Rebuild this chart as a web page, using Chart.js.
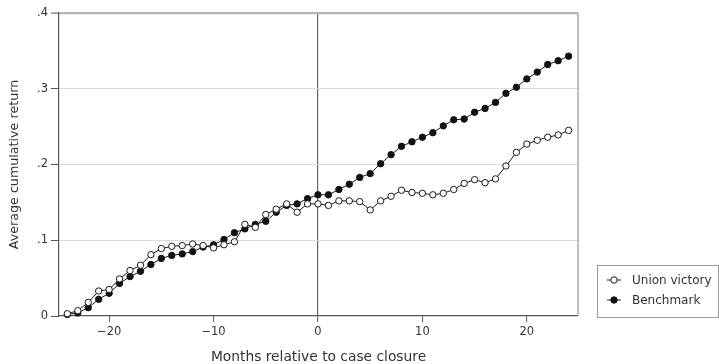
<!DOCTYPE html>
<html><head><meta charset="utf-8">
<script src="https://cdn.jsdelivr.net/npm/chart.js@4/dist/chart.umd.min.js"></script>
<style>html,body{margin:0;padding:0;background:#fff;}#wrap{width:719px;height:364px;}</style>
</head><body><div id="wrap"><canvas id="c" width="719" height="364"></canvas></div>
<script>
const months = [-24,-23,-22,-21,-20,-19,-18,-17,-16,-15,-14,-13,-12,-11,-10,-9,-8,-7,-6,-5,-4,-3,-2,-1,0,1,2,3,4,5,6,7,8,9,10,11,12,13,14,15,16,17,18,19,20,21,22,23,24];
const unionVictory = [0.003,0.007,0.018,0.033,0.035,0.049,0.060,0.067,0.081,0.089,0.092,0.093,0.095,0.093,0.090,0.094,0.098,0.121,0.117,0.134,0.141,0.148,0.137,0.148,0.148,0.146,0.152,0.152,0.151,0.140,0.152,0.158,0.166,0.163,0.162,0.160,0.162,0.167,0.175,0.180,0.176,0.181,0.198,0.216,0.227,0.232,0.236,0.239,0.245];
const benchmark = [0.002,0.004,0.011,0.022,0.030,0.043,0.052,0.059,0.068,0.076,0.080,0.082,0.085,0.091,0.094,0.101,0.110,0.115,0.121,0.125,0.137,0.146,0.148,0.155,0.160,0.160,0.167,0.174,0.183,0.188,0.201,0.213,0.224,0.230,0.236,0.242,0.251,0.259,0.260,0.269,0.274,0.282,0.294,0.302,0.313,0.322,0.332,0.337,0.343];
const seriesNames = ['Union victory','Benchmark'];
const xTicks = [-20,-10,0,10,20];
const yTicks = [0,0.1,0.2,0.3,0.4];
const xTitle = 'Months relative to case closure';
const yTitle = 'Average cumulative return';

const FONT = "'DejaVu Sans', sans-serif";
const toXY = (xs, ys) => xs.map((x,i)=>({x:x, y:ys[i]}));

const framePlugin = {
  id: 'frame',
  beforeDatasetsDraw(chart) {
    const {ctx, chartArea: a} = chart;
    ctx.save();
    ctx.strokeStyle = '#a8a8a8';
    ctx.lineWidth = 1.5;
    ctx.beginPath();
    ctx.moveTo(a.right, a.top);
    ctx.lineTo(a.right, a.bottom);
    ctx.stroke();
    ctx.restore();
  }
};

const legendPlugin = {
  id: 'boxLegend',
  afterDraw(chart) {
    const {ctx, chartArea: a} = chart;
    const left = a.right + 19, bottom = a.bottom + 1, top = bottom - 52, right = chart.width - 1;
    ctx.save();
    ctx.strokeStyle = '#999';
    ctx.lineWidth = 1;
    ctx.strokeRect(left + 0.5, top + 0.5, right - left, bottom - top);
    chart.data.datasets.forEach((ds, i) => {
      const y = top + 15 + i * 20;
      const x0 = left + 10, x1 = left + 24;
      ctx.strokeStyle = ds.borderColor;
      ctx.lineWidth = ds.borderWidth;
      ctx.beginPath(); ctx.moveTo(x0, y); ctx.lineTo(x1, y); ctx.stroke();
      ctx.beginPath();
      ctx.arc((x0 + x1) / 2, y, ds.pointRadius, 0, Math.PI * 2);
      ctx.fillStyle = ds.pointBackgroundColor;
      ctx.fill();
      ctx.lineWidth = ds.pointBorderWidth;
      ctx.strokeStyle = ds.pointBorderColor;
      ctx.stroke();
      ctx.fillStyle = '#333';
      ctx.font = '12px ' + FONT;
      ctx.textBaseline = 'middle';
      ctx.textAlign = 'left';
      ctx.fillText(ds.label, left + 35, y + 1);
    });
    ctx.restore();
  }
};

new Chart(document.getElementById('c'), {
  type: 'line',
  data: {
    datasets: [
      { label: seriesNames[0], data: toXY(months, unionVictory), borderColor: '#1a1a1a', borderWidth: 1, clip: false,
        pointRadius: 3.2, pointBackgroundColor: '#ffffff', pointBorderColor: '#1a1a1a', pointBorderWidth: 1, tension: 0 },
      { label: seriesNames[1], data: toXY(months, benchmark), borderColor: '#1a1a1a', borderWidth: 1, clip: false,
        pointRadius: 3.2, pointBackgroundColor: '#111111', pointBorderColor: '#111111', pointBorderWidth: 1, tension: 0 }
    ]
  },
  options: {
    responsive: false,
    animation: false,
    devicePixelRatio: 1,
    layout: { padding: { left: 0, top: 13, right: 141, bottom: 0 } },
    plugins: { legend: { display: false }, tooltip: { enabled: false } },
    scales: {
      x: {
        type: 'linear', min: -24.8, max: 24.9,
        afterBuildTicks: s => { s.ticks = xTicks.map(v => ({value: v})); },
        afterFit: s => { s.height = 48; },
        ticks: { callback: v => v < 0 ? '\u2212' + Math.abs(v) : String(v), font: { family: FONT, size: 11.5 }, color: '#333', padding: 3, maxRotation: 0, autoSkip: false },
        grid: { color: c => (c.tick && c.tick.value === 0) ? '#666' : 'rgba(0,0,0,0)', lineWidth: 1.2, drawTicks: true, tickLength: 6, tickColor: '#555', tickWidth: 1 },
        border: { display: true, color: '#555', width: 1.2 },
        title: { display: true, text: xTitle, font: { family: FONT, size: 13.8, lineHeight: 1 }, color: '#333', padding: { top: 0, bottom: 0 } }
      },
      y: {
        min: 0, max: 0.4,
        afterBuildTicks: s => { s.ticks = yTicks.map(v => ({value: v})); },
        afterFit: s => { s.width = 59; },
        ticks: { callback: v => v === 0 ? '0' : '.' + Math.round(v * 10), font: { family: FONT, size: 11.5 }, color: '#333', padding: 3 },
        grid: { color: c => { const v = c.tick ? c.tick.value : null; if (v === 0) return 'rgba(0,0,0,0)'; if (Math.abs(v - 0.4) < 1e-9) return '#b4b4b4'; return '#dcdcdc'; },
                lineWidth: c => (c.tick && Math.abs(c.tick.value - 0.4) < 1e-9) ? 2.2 : 1, drawTicks: true, tickLength: 8, tickColor: '#555', tickWidth: 1 },
        border: { display: true, color: '#555', width: 1.2 },
        title: { display: true, text: yTitle, font: { family: FONT, size: 12.7, lineHeight: 1 }, color: '#333', padding: { top: 8, bottom: 0 } }
      }
    }
  },
  plugins: [framePlugin, legendPlugin]
});
</script>
</body></html>
